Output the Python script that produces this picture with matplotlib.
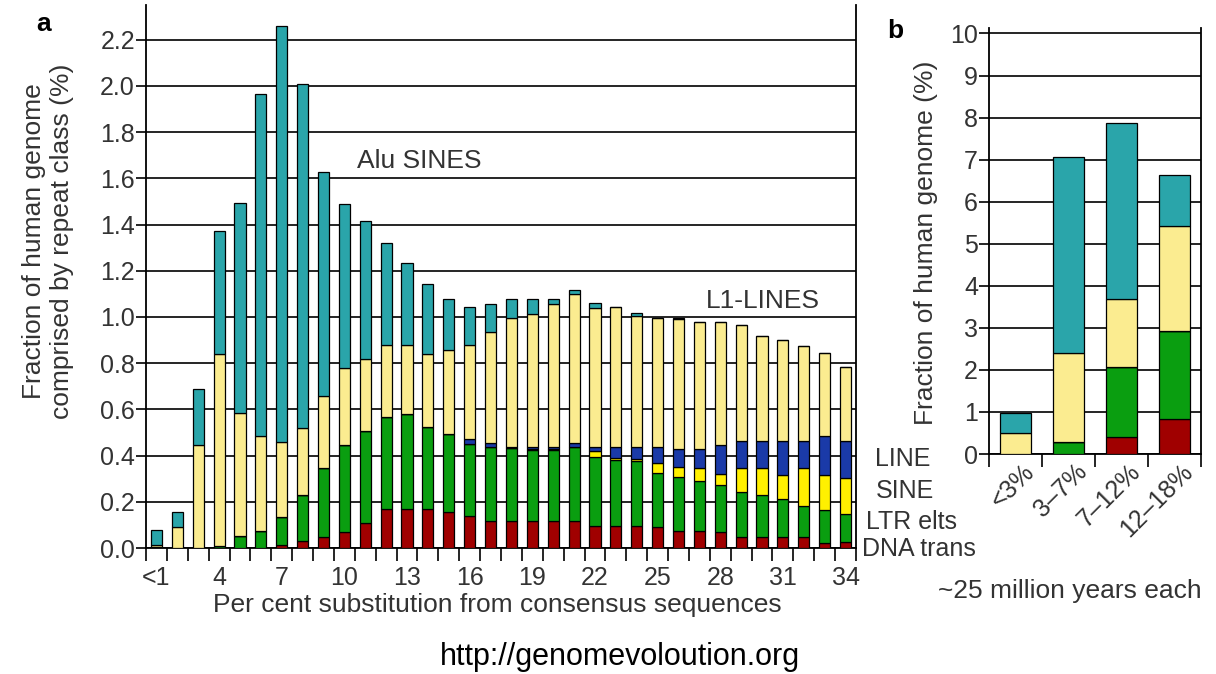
import numpy as np
import matplotlib
matplotlib.use("Agg")
import matplotlib.pyplot as plt
from matplotlib.ticker import FixedLocator, NullFormatter

plt.rcParams['font.family'] = ['Liberation Sans', 'DejaVu Sans']

# ── panel a: per cent substitution bins (1 = "<1") ───────────────────────────
subst = list(range(1, 35))
subst_labels = ["<1", "4", "7", "10", "13", "16", "19", "22", "25", "28", "31", "34"]
subst_label_pos = [1, 4, 7, 10, 13, 16, 19, 22, 25, 28, 31, 34]

# segment heights (% of genome), bottom to top
dna_a = [0, 0, 0, 0, 0, 0, .015, .03, .047, .07, .107, .17, .17, .17, .155, .14, .115,
         .115, .115, .115, .115, .097, .097, .095, .09, .075, .075, .07, .047, .047,
         .047, .047, .023, .026]
ltr_a = [.005, 0, 0, .01, .05, .075, .12, .2, .30, .377, .40, .397, .412, .353, .34, .31,
         .32, .317, .308, .308, .32, .297, .283, .282, .236, .231, .215, .202, .197, .181,
         .166, .135, .143, .122]
sine_a = [0, 0, 0, 0, 0, 0, 0, 0, 0, 0, 0, 0, 0, 0, 0, 0, 0, 0, .007, .007, 0, .024,
          .008, .008, .044, .043, .056, .049, .102, .118, .105, .164, .152, .155]
line_a = [0, 0, 0, 0, 0, 0, 0, 0, 0, 0, 0, 0, 0, 0, 0, .02, .02, .006, .006, .006, .02,
          .02, .05, .053, .068, .081, .084, .125, .115, .115, .143, .115, .168, .158]
l1_a = [.01, .09, .445, .83, .535, .41, .325, .29, .31, .33, .31, .31, .295, .315, .364,
        .407, .481, .559, .578, .62, .643, .602, .607, .567, .559, .56, .548, .532, .502,
        .455, .439, .413, .357, .323]
alu_a = [.065, .065, .245, .53, .91, 1.48, 1.80, 1.49, .97, .71, .60, .443, .357, .303,
         .217, .168, .12, .079, .062, .02, .02, .019, 0, .012, 0, .007, 0, 0, 0, 0, 0, 0,
         0, 0]

# ── panel b: age bins ─────────────────────────────────────────────────────────
age_bins = ["<3%", "3\u20137%", "7\u201312%", "12\u201318%"]
dna_b = [0, 0, .4, .83]
ltr_b = [0, .28, 1.68, 2.1]
sine_b = [0, 0, 0, 0]
line_b = [0, 0, 0, 0]
l1_b = [.5, 2.12, 1.6, 2.49]
alu_b = [.47, 4.66, 4.18, 1.21]

COLORS = {"dna": "#a00000", "ltr": "#0a9e10", "sine": "#fff000",
          "line": "#1a3aa8", "l1": "#fbec90", "alu": "#2aa5aa"}
TXT = "#333333"
W, H = 1216, 674

fig = plt.figure(figsize=(W / 100, H / 100), dpi=100)


def stack(ax, x, series, width):
    bottom = np.zeros(len(x))
    for key, vals in series:
        vals = np.asarray(vals, dtype=float)
        ax.bar(x, vals, width, bottom=bottom, color=COLORS[key],
               edgecolor="black", linewidth=0.9, zorder=3)
        bottom += vals


def style(ax):
    ax.spines["top"].set_visible(False)
    for s in ("left", "right", "bottom"):
        ax.spines[s].set_linewidth(1.3)
    ax.yaxis.grid(True, color="black", linewidth=1.2)
    ax.set_axisbelow(True)
    ax.tick_params(axis="y", direction="out", length=7, width=1.2,
                   labelsize=18, labelcolor=TXT, pad=1)
    ax.tick_params(axis="x", which="major", length=0, labelsize=18,
                   labelcolor=TXT, pad=13)
    ax.tick_params(axis="x", which="minor", direction="out", length=9, width=1.2)


# ── panel a ───────────────────────────────────────────────────────────────────
ax_a = fig.add_axes([146 / W, 1 - 548 / H, 710 / W, 543 / H])
stack(ax_a, subst, [("dna", dna_a), ("ltr", ltr_a), ("sine", sine_a),
                    ("line", line_a), ("l1", l1_a), ("alu", alu_a)], 0.53)
ax_a.set_xlim(0.5, 34.5)
ax_a.set_ylim(0, 2.35)
ax_a.set_yticks(np.arange(0, 2.21, 0.2))
ax_a.set_yticklabels([f"{v:.1f}" for v in np.arange(0, 2.21, 0.2)])
ax_a.set_xticks(subst_label_pos)
ax_a.set_xticklabels(subst_labels)
ax_a.xaxis.set_minor_locator(FixedLocator(np.arange(0.5, 35, 1)))
ax_a.xaxis.set_minor_formatter(NullFormatter())
style(ax_a)

fig.text(419 / W, 1 - 161 / H, "Alu SINES", ha="center", va="center", fontsize=19, color=TXT)
fig.text(763 / W, 1 - 301 / H, "L1-LINES", ha="center", va="center", fontsize=19, color=TXT)

for label, xp, yp in [("LINE", 875, 459), ("SINE", 876, 491),
                      ("LTR elts", 866, 522), ("DNA trans", 862, 549)]:
    fig.text(xp / W, 1 - yp / H, label, ha="left", va="center", fontsize=18, color=TXT)

fig.text(497 / W, 1 - 605 / H, "Per cent substitution from consensus sequences",
         ha="center", va="center", fontsize=19, color=TXT)
fig.text(48 / W, 1 - 241 / H, "Fraction of human genome\ncomprised by repeat class (%)",
         ha="center", va="center", rotation=90, fontsize=19, color=TXT,
         multialignment="center", linespacing=1.2)
fig.text(44 / W, 1 - 24 / H, "a", ha="center", va="center", fontsize=19,
         fontweight="bold", color="black")

# ── panel b ───────────────────────────────────────────────────────────────────
ax_b = fig.add_axes([989 / W, 1 - 454 / H, 212 / W, 426 / H])
xb = np.arange(len(age_bins))
stack(ax_b, xb, [("dna", dna_b), ("ltr", ltr_b), ("sine", sine_b),
                 ("line", line_b), ("l1", l1_b), ("alu", alu_b)], 0.6)
ax_b.set_xlim(-0.5, 3.5)
ax_b.set_ylim(0, 10.13)
ax_b.set_yticks(range(0, 11))
ax_b.set_xticks(xb + 0.12)
ax_b.set_xticklabels(age_bins, rotation=45, ha="right", rotation_mode="anchor")
ax_b.xaxis.set_minor_locator(FixedLocator(np.arange(-0.5, 4, 1)))
ax_b.xaxis.set_minor_formatter(NullFormatter())
style(ax_b)
ax_b.tick_params(axis="x", which="major", pad=4)

fig.text(926 / W, 1 - 243 / H, "Fraction of human genome (%)", ha="center", va="center",
         rotation=90, fontsize=19, color=TXT)
fig.text(895 / W, 1 - 31 / H, "b", ha="center", va="center", fontsize=19,
         fontweight="bold", color="black")
fig.text(1070 / W, 1 - 591 / H, "~25 million years each", ha="center", va="center",
         fontsize=19, color=TXT)

fig.text(620 / W, 1 - 657 / H, "http://genomevoloution.org", ha="center", va="center",
         fontsize=22, color="black")

fig.savefig("out.png", dpi=100)
